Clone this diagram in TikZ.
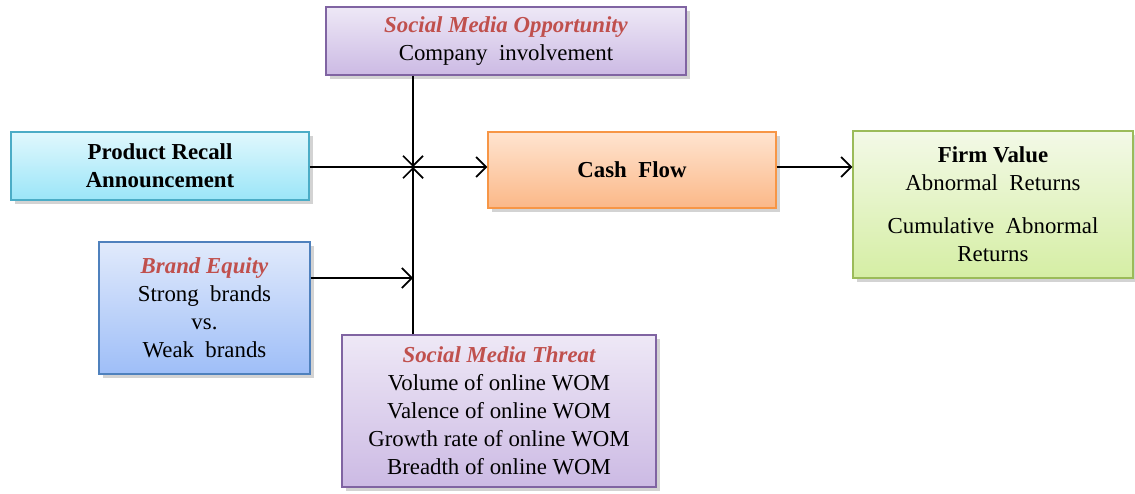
\documentclass[tikz,border=0pt]{standalone}
\usepackage{fontspec}
\setmainfont{Liberation Serif}
\usetikzlibrary{shadows, arrows.meta}

\definecolor{titleRed}{HTML}{C0504D}
\definecolor{purpleLine}{HTML}{8064A2}
\definecolor{purpleTop}{HTML}{EEE8F6}
\definecolor{purpleBottom}{HTML}{CCBAE4}
\definecolor{cyanLine}{HTML}{4BACC6}
\definecolor{cyanTop}{HTML}{E0F8FD}
\definecolor{cyanBottom}{HTML}{9BE5F8}
\definecolor{orangeLine}{HTML}{F79646}
\definecolor{orangeTop}{HTML}{FFE4D0}
\definecolor{orangeBottom}{HTML}{FBB888}
\definecolor{greenLine}{HTML}{9BBB59}
\definecolor{greenTop}{HTML}{F3F9E7}
\definecolor{greenBottom}{HTML}{D5EEA4}
\definecolor{blueLine}{HTML}{4F81BD}
\definecolor{blueTop}{HTML}{E1EAFB}
\definecolor{blueBottom}{HTML}{9EBEF8}

\tikzset{
    box/.style={draw, line width=0.8pt, align=center, inner sep=2pt,
        drop shadow={shadow xshift=2pt, shadow yshift=-2pt, opacity=0.35},
        font=\fontsize{13}{15.9}\selectfont},
    purplebox/.style={box, draw=purpleLine, top color=purpleTop, bottom color=purpleBottom},
    cyanbox/.style={box, draw=cyanLine, top color=cyanTop, bottom color=cyanBottom},
    orangebox/.style={box, draw=orangeLine, top color=orangeTop, bottom color=orangeBottom},
    greenbox/.style={box, draw=greenLine, top color=greenTop, bottom color=greenBottom},
    bluebox/.style={box, draw=blueLine, top color=blueTop, bottom color=blueBottom},
    link/.style={-{Straight Barb[length=2mm,width=4mm]}, line width=1pt}
}

\newcommand{\heading}[1]{{\color{titleRed}\bfseries\itshape #1}}

\begin{document}
\begin{tikzpicture}
    % Fix the page size
    \useasboundingbox (0,0) rectangle (22.7,9.86);

    % Moderators
    \node[purplebox, minimum width=7.2cm, minimum height=1.36cm] (opp) at (10.12,9.04)
        {\heading{Social Media Opportunity}\\Company~~involvement};
    \node[purplebox, minimum width=6.28cm, minimum height=3.04cm] (threat) at (9.98,1.64)
        {\heading{Social Media Threat}\\Volume of online WOM\\Valence of online WOM\\Growth rate of online WOM\\Breadth of online WOM};
    \node[bluebox, minimum width=4.22cm, minimum height=2.64cm] (brand) at (4.09,3.7)
        {\heading{Brand Equity}\\Strong~~brands\\vs.\\Weak~~brands};

    % Main chain
    \node[cyanbox, minimum width=5.96cm, minimum height=1.36cm, font=\fontsize{13}{15.9}\selectfont\bfseries] (recall) at (3.2,6.54)
        {Product Recall\\Announcement};
    \node[orangebox, minimum width=5.76cm, minimum height=1.52cm, font=\fontsize{13}{15.9}\selectfont\bfseries] (cash) at (12.64,6.46)
        {Cash~~Flow};
    \node[greenbox, minimum width=5.6cm, minimum height=2.94cm] (firm) at (19.86,5.77)
        {\textbf{Firm Value}\\Abnormal~~Returns\\[0.3cm]Cumulative~~Abnormal\\Returns};

    % Junction on the recall arrow
    \coordinate (junc) at (8.26,6.52);
    \coordinate (brandOut) at ([yshift=0.6cm]brand.east);

    % Arrows
    \draw[link] (recall.east |- junc) -- (cash.west |- junc);
    \draw[link] (cash.east |- junc) -- (firm.west |- junc);
    \draw[link] (junc |- opp.south) -- (junc);
    \draw[link] (junc |- threat.north) -- (junc);
    \draw[link] (brandOut) -- (brandOut -| junc);
\end{tikzpicture}
\end{document}
